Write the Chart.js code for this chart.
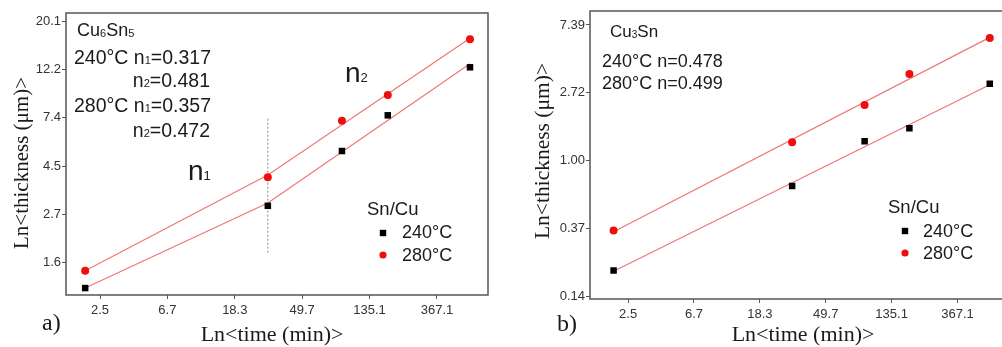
<!DOCTYPE html>
<html><head><meta charset="utf-8">
<script src="https://cdn.jsdelivr.net/npm/chart.js@4/dist/chart.umd.min.js"></script>
<style>
html,body{margin:0;padding:0;background:#fff;overflow:hidden;width:1002px;height:347px;position:relative;}
#a{position:absolute;left:0;top:0;}
#b{position:absolute;left:500px;top:0;}
</style></head><body>
<canvas id="a" width="500" height="347"></canvas>
<canvas id="b" width="510" height="347"></canvas>
<script>
// ---- data (ln values) ----
const lnTime = [0.78, 3.49, 4.59, 5.27, 6.49];
const cu6sn5_240 = [0.232, 1.087, 1.656, 2.027, 2.526];
const cu6sn5_280 = [0.412, 1.383, 1.971, 2.238, 2.817];
const cu3sn_240 = [-1.613, -0.371, 0.287, 0.479, 1.136];
const cu3sn_280 = [-1.024, 0.272, 0.822, 1.278, 1.809];
const xTickValues = [1, 2, 3, 4, 5, 6];
const xTickLabels = ['2.5', '6.7', '18.3', '49.7', '135.1', '367.1'];
const yTickValuesA = [0.5, 1, 1.5, 2, 2.5, 3];
const yTickLabelsA = ['1.6', '2.7', '4.5', '7.4', '12.2', '20.1'];
const yTickValuesB = [-2, -1, 0, 1, 2];
const yTickLabelsB = ['0.14', '0.37', '1.00', '2.72', '7.39'];
const splitX = 3.49;
const splitY = [0.6, 2.0];

const SANS = '"Liberation Sans", Arial, sans-serif';
const SERIF = '"Liberation Serif", "Times New Roman", serif';

function linFit(xs, ys) {
  const n = xs.length;
  const mx = xs.reduce((a, b) => a + b, 0) / n, my = ys.reduce((a, b) => a + b, 0) / n;
  let sxy = 0, sxx = 0;
  for (let i = 0; i < n; i++) { sxy += (xs[i] - mx) * (ys[i] - my); sxx += (xs[i] - mx) ** 2; }
  const b = sxy / sxx;
  return x => my + b * (x - mx);
}
function twoStageFit(ys) {
  const f = linFit(lnTime.slice(1), ys.slice(1));
  const last = lnTime.length - 1;
  return [{x: lnTime[0], y: ys[0]}, {x: lnTime[1], y: f(lnTime[1])}, {x: lnTime[last], y: f(lnTime[last])}];
}
function oneFit(ys) {
  const f = linFit(lnTime, ys);
  const last = lnTime.length - 1;
  return [{x: lnTime[0], y: f(lnTime[0])}, {x: lnTime[last], y: f(lnTime[last])}];
}
const pts = ys => lnTime.map((x, i) => ({x, y: ys[i]}));

function rich(ctx, x, y, parts, align) {
  ctx.save();
  ctx.fillStyle = '#1a1a1a'; ctx.textBaseline = 'alphabetic'; ctx.textAlign = 'left';
  let w = 0;
  for (const p of parts) { ctx.font = p.s + 'px ' + SANS; w += ctx.measureText(p.t).width; }
  let cx = align === 'right' ? x - w : x;
  for (const p of parts) { ctx.font = p.s + 'px ' + SANS; ctx.fillText(p.t, cx, y + (p.dy || 0)); cx += ctx.measureText(p.t).width; }
  ctx.restore();
}

function scaleCfg(xmin, xmax, ymin, ymax, yVals, yLabels, yWidth, xHeight) {
  const grid = {display: true, drawOnChartArea: false, drawTicks: true, tickLength: 4, color: '#555', lineWidth: 1};
  const tickFont = {family: SANS, size: 13};
  return {
    x: {
      type: 'linear', min: xmin, max: xmax, grid, border: {display: false},
      afterBuildTicks: s => { s.ticks = xTickValues.map(v => ({value: v})); },
      ticks: {autoSkip: false, maxRotation: 0, padding: 4, color: '#333', font: tickFont,
        callback: (v, i) => xTickLabels[i]},
      afterFit: s => { s.height = xHeight; }
    },
    y: {
      type: 'linear', min: ymin, max: ymax, grid, border: {display: false},
      afterBuildTicks: s => { s.ticks = yVals.map(v => ({value: v})); },
      ticks: {autoSkip: false, padding: 1, color: '#333', font: tickFont,
        callback: (v, i) => yLabels[i]},
      afterFit: s => { s.width = yWidth; }
    }
  };
}

function datasets(y240, y280, fit240, fit280, extra) {
  const ds = [
    {type: 'scatter', data: pts(y240), pointStyle: 'rect', pointRadius: 4.6, backgroundColor: '#000', borderWidth: 0, pointBorderWidth: 0, showLine: false, order: 0},
    {type: 'scatter', data: pts(y280), pointStyle: 'circle', pointRadius: 4, backgroundColor: '#f20d0d', borderWidth: 0, pointBorderWidth: 0, showLine: false, order: 0},
    {type: 'line', data: fit240, borderColor: '#ef7676', borderWidth: 1.2, pointRadius: 0, fill: false, tension: 0, order: 1},
    {type: 'line', data: fit280, borderColor: '#ef7676', borderWidth: 1.2, pointRadius: 0, fill: false, tension: 0, order: 1}
  ];
  return ds.concat(extra || []);
}

function boxPlugin(drawText) {
  return {
    id: 'deco',
    afterDraw(chart) {
      const ctx = chart.ctx, a = chart.chartArea;
      ctx.save();
      ctx.strokeStyle = '#555'; ctx.lineWidth = 1.5;
      ctx.strokeRect(a.left, a.top, a.right - a.left, a.bottom - a.top);
      ctx.restore();
      drawText(ctx);
    }
  };
}

// ---- chart a ----
new Chart(document.getElementById('a'), {
  type: 'scatter',
  data: {datasets: datasets(cu6sn5_240, cu6sn5_280, twoStageFit(cu6sn5_240), twoStageFit(cu6sn5_280), [
    {type: 'line', data: splitY.map(y => ({x: splitX, y})), borderColor: '#888', borderWidth: 1, borderDash: [2, 2], pointRadius: 0, fill: false, order: 2}
  ])},
  options: {
    responsive: false, animation: false, events: [],
    layout: {padding: {left: 0, top: 13, right: 12, bottom: 0}},
    plugins: {legend: {display: false}, tooltip: {enabled: false}},
    scales: scaleCfg(0.4955, 6.757, 0.160, 3.090, yTickValuesA, yTickLabelsA, 66, 52)
  },
  plugins: [boxPlugin(ctx => {
    ctx.save();
    ctx.fillStyle = '#1a1a1a';
    ctx.font = '21px ' + SERIF; ctx.textAlign = 'center'; ctx.textBaseline = 'alphabetic';
    ctx.translate(28, 163); ctx.rotate(-Math.PI / 2); ctx.fillText('Ln<thickness (μm)>', 0, 0);
    ctx.restore();
    ctx.save();
    ctx.fillStyle = '#1a1a1a'; ctx.textBaseline = 'alphabetic';
    ctx.font = '22px ' + SERIF; ctx.textAlign = 'center'; ctx.fillText('Ln<time (min)>', 272, 341);
    ctx.font = '24px ' + SERIF; ctx.textAlign = 'left'; ctx.fillText('a)', 42, 330);
    ctx.restore();
    rich(ctx, 77, 36, [{t: 'Cu', s: 18}, {t: '6', s: 11, dy: 1}, {t: 'Sn', s: 18}, {t: '5', s: 11, dy: 1}]);
    rich(ctx, 74, 64, [{t: '240°C n', s: 19.5}, {t: '1', s: 11, dy: 0}, {t: '=0.317', s: 19.5}]);
    rich(ctx, 210, 87, [{t: 'n', s: 19.5}, {t: '2', s: 11, dy: 0}, {t: '=0.481', s: 19.5}], 'right');
    rich(ctx, 74, 112, [{t: '280°C n', s: 19.5}, {t: '1', s: 11, dy: 0}, {t: '=0.357', s: 19.5}]);
    rich(ctx, 210, 137, [{t: 'n', s: 19.5}, {t: '2', s: 11, dy: 0}, {t: '=0.472', s: 19.5}], 'right');
    rich(ctx, 188, 180, [{t: 'n', s: 28}, {t: '1', s: 13, dy: 0}]);
    rich(ctx, 345, 82, [{t: 'n', s: 28}, {t: '2', s: 13, dy: 0}]);
    rich(ctx, 367, 215, [{t: 'Sn/Cu', s: 18.5}]);
    rich(ctx, 402, 238, [{t: '240°C', s: 18}]);
    rich(ctx, 402, 261, [{t: '280°C', s: 18}]);
    ctx.save();
    ctx.fillStyle = '#000'; ctx.fillRect(383 - 3.2, 233 - 3.2, 6.4, 6.4);
    ctx.fillStyle = '#f20d0d'; ctx.beginPath(); ctx.arc(383, 255, 3.6, 0, Math.PI * 2); ctx.fill();
    ctx.restore();
  })]
});

// ---- chart b ----
new Chart(document.getElementById('b'), {
  type: 'scatter',
  data: {datasets: datasets(cu3sn_240, cu3sn_280, oneFit(cu3sn_240), oneFit(cu3sn_280))},
  options: {
    responsive: false, animation: false, events: [],
    layout: {padding: {left: 0, top: 11, right: 2, bottom: 0}},
    plugins: {legend: {display: false}, tooltip: {enabled: false}},
    scales: scaleCfg(0.422, 6.727, -2.034, 2.206, yTickValuesB, yTickLabelsB, 90, 48)
  },
  plugins: [boxPlugin(ctx => {
    ctx.save();
    ctx.fillStyle = '#1a1a1a';
    ctx.font = '21.5px ' + SERIF; ctx.textAlign = 'center'; ctx.textBaseline = 'alphabetic';
    ctx.translate(49, 151); ctx.rotate(-Math.PI / 2); ctx.fillText('Ln<thickness (μm)>', 0, 0);
    ctx.restore();
    ctx.save();
    ctx.fillStyle = '#1a1a1a'; ctx.textBaseline = 'alphabetic';
    ctx.font = '22px ' + SERIF; ctx.textAlign = 'center'; ctx.fillText('Ln<time (min)>', 303, 341);
    ctx.font = '24px ' + SERIF; ctx.textAlign = 'left'; ctx.fillText('b)', 57, 331);
    ctx.restore();
    rich(ctx, 110, 37, [{t: 'Cu', s: 17}, {t: '3', s: 10, dy: 1}, {t: 'Sn', s: 17}]);
    rich(ctx, 102, 67, [{t: '240°C n=0.478', s: 18}]);
    rich(ctx, 102, 89, [{t: '280°C n=0.499', s: 18}]);
    rich(ctx, 388, 213, [{t: 'Sn/Cu', s: 18.5}]);
    rich(ctx, 423, 237, [{t: '240°C', s: 18}]);
    rich(ctx, 423, 259, [{t: '280°C', s: 18}]);
    ctx.save();
    ctx.fillStyle = '#000'; ctx.fillRect(405 - 3.2, 231 - 3.2, 6.4, 6.4);
    ctx.fillStyle = '#f20d0d'; ctx.beginPath(); ctx.arc(405, 253, 3.6, 0, Math.PI * 2); ctx.fill();
    ctx.restore();
  })]
});
</script>
</body></html>
